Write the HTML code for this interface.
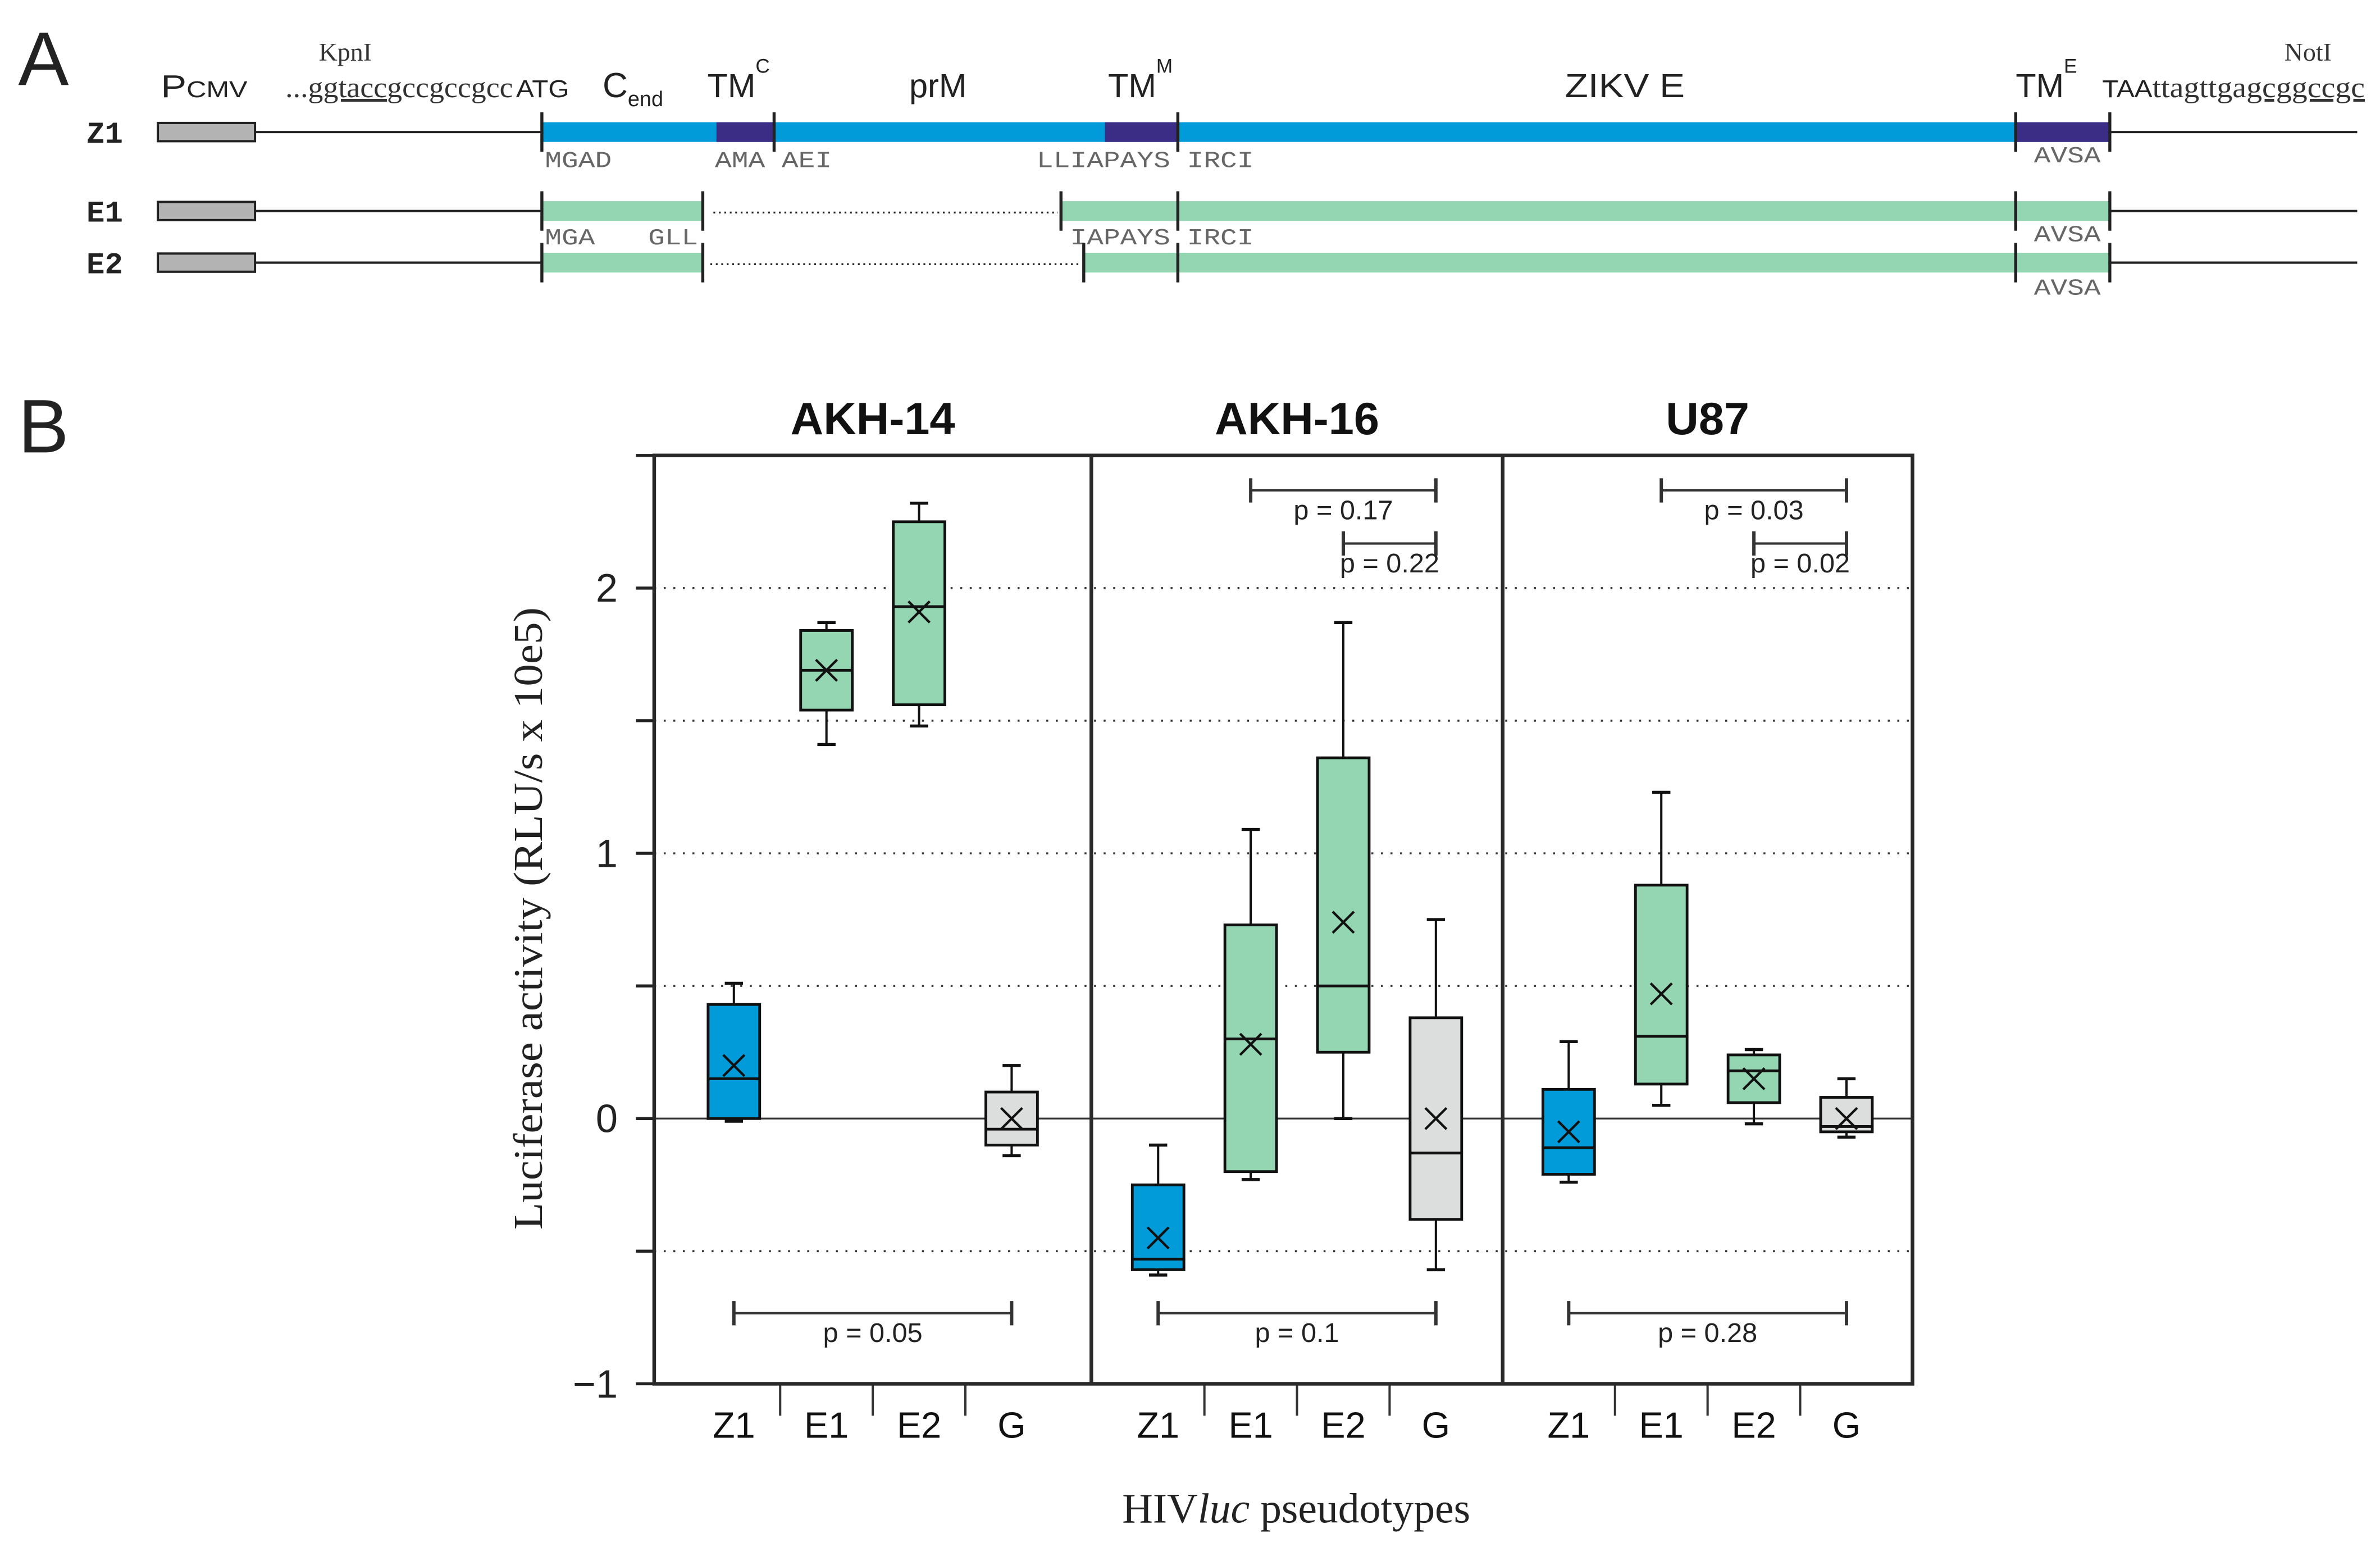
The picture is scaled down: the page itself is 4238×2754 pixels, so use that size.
<!DOCTYPE html>
<html><head><meta charset="utf-8"><style>
html,body{margin:0;padding:0;background:#fff;}
svg{display:block;}
.sans{font-family:"Liberation Sans",sans-serif;}
.serif{font-family:"Liberation Serif",serif;}
.mono{font-family:"Liberation Mono",monospace;}
</style></head><body>
<svg id="fig" width="4238" height="2754" viewBox="0 0 1568 1019" preserveAspectRatio="none" xmlns="http://www.w3.org/2000/svg">
<g id="panelA">
<text x="12" y="56" class="sans" font-size="50" fill="#222">A</text>
<text x="106" y="64" class="sans" font-size="21" fill="#222" textLength="57" lengthAdjust="spacingAndGlyphs">P<tspan font-size="15">CMV</tspan></text>
<text x="210" y="40" class="serif" font-size="17" fill="#333">KpnI</text>
<text x="188" y="64" class="serif" font-size="19" fill="#333" textLength="150" lengthAdjust="spacingAndGlyphs">...<tspan text-decoration="underline">ggtacc</tspan>gccgccgcc</text>
<text x="340" y="64" class="sans" font-size="16" fill="#222" textLength="35" lengthAdjust="spacingAndGlyphs">ATG</text>
<text x="397" y="64" class="sans" font-size="23" fill="#222">C<tspan font-size="14" dy="6">end</tspan></text>
<text x="466" y="64" class="sans" font-size="22" fill="#222">TM<tspan font-size="13" dy="-16">C</tspan></text>
<text x="599" y="64" class="sans" font-size="22" fill="#222">prM</text>
<text x="730" y="64" class="sans" font-size="22" fill="#222">TM<tspan font-size="13" dy="-16">M</tspan></text>
<text x="1031" y="64" class="sans" font-size="22" fill="#222" textLength="79" lengthAdjust="spacingAndGlyphs">ZIKV E</text>
<text x="1328" y="64" class="sans" font-size="22" fill="#222">TM<tspan font-size="13" dy="-16">E</tspan></text>
<text x="1385" y="64" class="sans" font-size="16" fill="#222" textLength="33" lengthAdjust="spacingAndGlyphs">TAA</text>
<text x="1418" y="64" class="serif" font-size="19" fill="#333" textLength="140" lengthAdjust="spacingAndGlyphs">ttagttga<tspan text-decoration="underline">gcggccgc</tspan></text>
<text x="1505" y="40" class="serif" font-size="17" fill="#333">NotI</text>
</g>
<g id="rows"></g>
<g id="panelB"></g>
</svg>
<script>
const NS="http://www.w3.org/2000/svg";
function mk(parent,tag,attrs,txt){const e=document.createElementNS(NS,tag);for(const k in attrs)e.setAttribute(k,attrs[k]);if(txt!==undefined)e.textContent=txt;parent.appendChild(e);return e;}
/* ---------- Panel A construct rows ---------- */
const rows=document.getElementById('rows');
const rowDefs=[
 {name:'Z1',y:87,color:'#009bd8',segs:[[357,1390]],dark:[[472,510],[728,776],[1328,1390]],dots:[],ticks:[357,510,776,1328,1390],
  labels:[['MGAD',359,110],['AMA',471,110],['AEI',515,110],['LLIAPAYS',683,110],['IRCI',782,110],['AVSA',1340,107]]},
 {name:'E1',y:139,color:'#94d6b1',segs:[[357,463],[699,1390]],dark:[],dots:[[470,697]],ticks:[357,463,699,776,1328,1390],
  labels:[['MGA',359,161],['GLL',427,161],['IAPAYS',705,161],['IRCI',782,161],['AVSA',1340,159]]},
 {name:'E2',y:173,color:'#94d6b1',segs:[[357,463],[714,1390]],dark:[],dots:[[468,712]],ticks:[357,463,714,776,1328,1390],
  labels:[['AVSA',1340,194]]}
];
rowDefs.forEach(r=>{
  const g=mk(rows,'g',{});
  
  
  const t=mk(g,'text',{x:57,y:r.y+7,'font-size':20,'font-weight':'bold',fill:'#222','class':'mono'},r.name);
  
  
  const pb=mk(g,'rect',{x:104,y:r.y-6,width:64,height:12,fill:'#b3b3b3',stroke:'#222','stroke-width':1.5});
  
  
  mk(g,'line',{x1:168,y1:r.y,x2:357,y2:r.y,stroke:'#222','stroke-width':1.5});
  mk(g,'line',{x1:1390,y1:r.y,x2:1553,y2:r.y,stroke:'#222','stroke-width':1.5});
  r.segs.forEach(s=>{const b=mk(g,'rect',{x:s[0],y:r.y-6.5,width:s[1]-s[0],height:13,fill:r.color});
    });
  r.dark.forEach(s=>{const b=mk(g,'rect',{x:s[0],y:r.y-6.5,width:s[1]-s[0],height:13,fill:'#3b2d85'});
    });
  r.dots.forEach(s=>{mk(g,'line',{x1:s[0],y1:r.y+1,x2:s[1],y2:r.y+1,stroke:'#222','stroke-width':1.2,'stroke-dasharray':'1.2 2.4'});});
  r.ticks.forEach(x=>{mk(g,'line',{x1:x,y1:r.y-13,x2:x,y2:r.y+13,stroke:'#222','stroke-width':2});});
  r.labels.forEach(l=>{const tx=mk(g,'text',{x:l[1],y:l[2],'font-size':15,fill:'#666','class':'mono',textLength:l[0].length*11,lengthAdjust:'spacingAndGlyphs'},l[0]);
    });
});

/* ---------- Panel B data ---------- */
const cellLines=['AKH-14','AKH-16','U87'];
const pseudotypes=['Z1','E1','E2','G'];
const whiskLow =[[-0.01,1.41,1.48,-0.14],[-0.59,-0.23,0.00,-0.57],[-0.24,0.05,-0.02,-0.07]];
const q1Vals   =[[0.00,1.54,1.56,-0.10],[-0.57,-0.20,0.25,-0.38],[-0.21,0.13,0.06,-0.05]];
const medians  =[[0.15,1.69,1.93,-0.04],[-0.53,0.30,0.50,-0.13],[-0.11,0.31,0.18,-0.03]];
const q3Vals   =[[0.43,1.84,2.25,0.10],[-0.25,0.73,1.36,0.38],[0.11,0.88,0.24,0.08]];
const whiskHigh=[[0.51,1.87,2.32,0.20],[-0.10,1.09,1.87,0.75],[0.29,1.23,0.26,0.15]];
const meanVals =[[0.20,1.69,1.91,0.00],[-0.45,0.28,0.74,0.00],[-0.05,0.47,0.15,0.00]];
const yTickLabels=['2','1','0','\u22121'];
const yTickVals=[2,1,0,-1];
const gridVals=[2,1.5,1,0.5,-0.5];
const pBottom=['p = 0.05','p = 0.1','p = 0.28'];
const pTopWide=[null,'p = 0.17','p = 0.03'];
const pTopNarrow=[null,'p = 0.22','p = 0.02'];

const P={left:431,right:1260,top:300,bottom:911.5,ymin:-1,ymax:2.5};
const panelEdges=[431,719,990,1260];
const fills={Z1:'#009bd8',E1:'#94d6b1',E2:'#94d6b1',G:'#dcdedd'};
function yS(v){return P.bottom-(v-P.ymin)/(P.ymax-P.ymin)*(P.bottom-P.top);}
function xS(panel,cat){const mid=(panelEdges[panel]+panelEdges[panel+1])/2;return mid+(cat-1.5)*61;}

const B=document.getElementById('panelB');
const bl=mk(B,'text',{x:12,y:298,'font-size':50,fill:'#222','class':'sans'},'B');


gridVals.forEach(v=>{const l=mk(B,'line',{x1:P.left,x2:P.right,y1:yS(v),y2:yS(v),stroke:'#333','stroke-width':1.3,'stroke-dasharray':'1.3 5'});
  });
const zl=mk(B,'line',{x1:P.left,x2:P.right,y1:yS(0),y2:yS(0),stroke:'#333','stroke-width':1.2});


for(let v=-1;v<=2.5;v+=0.5){mk(B,'line',{x1:P.left-12,x2:P.left,y1:yS(v),y2:yS(v),stroke:'#222','stroke-width':2});}
yTickVals.forEach((v,i)=>{const t=mk(B,'text',{x:407,y:yS(v)+9,'text-anchor':'end','font-size':26,fill:'#222','class':'sans'},yTickLabels[i]);
  });
const yt=mk(B,'text',{x:0,y:0,'font-size':27,fill:'#222','class':'serif','text-anchor':'middle',textLength:410,lengthAdjust:'spacingAndGlyphs',transform:'translate(357,605) rotate(-90)'},'Luciferase activity (RLU/s x 10e5)');


const xt=mk(B,'text',{x:854,y:1003,'font-size':28,fill:'#222','class':'serif','text-anchor':'middle'});


xt.innerHTML='HIV<tspan font-style="italic">luc</tspan> pseudotypes';

cellLines.forEach((cl,p)=>{
  const g=mk(B,'g',{});
  
  
  const mid=(panelEdges[p]+panelEdges[p+1])/2;
  const tt=mk(g,'text',{x:mid,y:286,'text-anchor':'middle','font-size':30,'font-weight':'bold',fill:'#111','class':'sans'},cl);
  
  
  pseudotypes.forEach((pt,c)=>{
    const x=xS(p,c),w=34;
    const bg=mk(g,'g',{});
    
    
    mk(bg,'line',{x1:x,x2:x,y1:yS(whiskHigh[p][c]),y2:yS(q3Vals[p][c]),stroke:'#111','stroke-width':1.5});
    mk(bg,'line',{x1:x,x2:x,y1:yS(whiskLow[p][c]),y2:yS(q1Vals[p][c]),stroke:'#111','stroke-width':1.5});
    mk(bg,'line',{x1:x-6,x2:x+6,y1:yS(whiskHigh[p][c]),y2:yS(whiskHigh[p][c]),stroke:'#111','stroke-width':2});
    mk(bg,'line',{x1:x-6,x2:x+6,y1:yS(whiskLow[p][c]),y2:yS(whiskLow[p][c]),stroke:'#111','stroke-width':2});
    mk(bg,'rect',{x:x-w/2,y:yS(q3Vals[p][c]),width:w,height:yS(q1Vals[p][c])-yS(q3Vals[p][c]),fill:fills[pt],stroke:'#111','stroke-width':1.8});
    mk(bg,'line',{x1:x-w/2,x2:x+w/2,y1:yS(medians[p][c]),y2:yS(medians[p][c]),stroke:'#111','stroke-width':1.8});
    const my=yS(meanVals[p][c]);
    mk(bg,'path',{d:`M${x-7},${my-7}L${x+7},${my+7}M${x+7},${my-7}L${x-7},${my+7}`,stroke:'#111','stroke-width':1.6,fill:'none'});
    const xl=mk(g,'text',{x:x,y:947,'text-anchor':'middle','font-size':24,fill:'#111','class':'sans'},pt);
    
    
    if(c<3){const sx=(xS(p,c)+xS(p,c+1))/2;mk(g,'line',{x1:sx,x2:sx,y1:P.bottom,y2:P.bottom+21,stroke:'#333','stroke-width':1.5});}
  });
  function bracket(x1,x2,y,label,name){
    const bg=mk(g,'g',{});
    
    
    mk(bg,'line',{x1:x1,x2:x2,y1:y,y2:y,stroke:'#333','stroke-width':1.5});
    mk(bg,'line',{x1:x1,x2:x1,y1:y-8,y2:y+8,stroke:'#333','stroke-width':2.2});
    mk(bg,'line',{x1:x2,x2:x2,y1:y-8,y2:y+8,stroke:'#333','stroke-width':2.2});
    mk(bg,'text',{x:(x1+x2)/2,y:y+19,'text-anchor':'middle','font-size':18,fill:'#222','class':'sans'},label);
  }
  bracket(xS(p,0),xS(p,3),865,pBottom[p],'p-value-bracket-bottom');
  if(pTopWide[p]){bracket(xS(p,1),xS(p,3),323,pTopWide[p],'p-value-bracket-e1-g');
    bracket(xS(p,2),xS(p,3),358,pTopNarrow[p],'p-value-bracket-e2-g');}
});
[719,990].forEach(x=>{const l=mk(B,'line',{x1:x,x2:x,y1:P.top,y2:P.bottom,stroke:'#2a2a2a','stroke-width':2.4});
  });
const fr=mk(B,'rect',{x:P.left,y:P.top,width:P.right-P.left,height:P.bottom-P.top,fill:'none',stroke:'#2a2a2a','stroke-width':2.4});


</script>
</body></html>
